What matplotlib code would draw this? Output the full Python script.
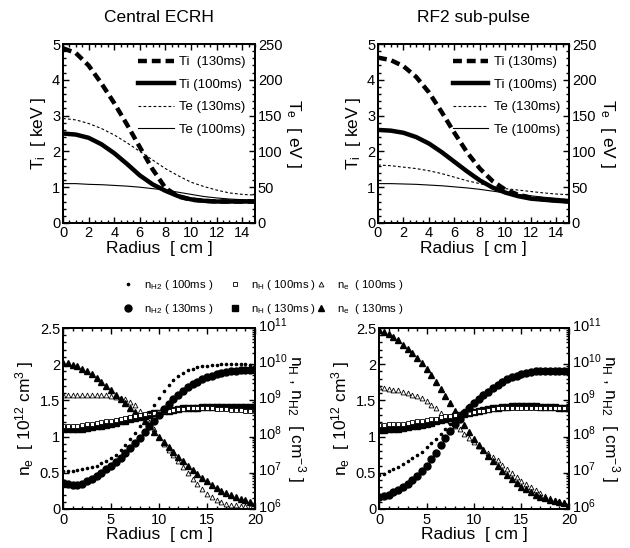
import numpy as np
import matplotlib
matplotlib.use("Agg")
import matplotlib.pyplot as plt
import matplotlib.transforms as mtransforms
from matplotlib.lines import Line2D
from matplotlib.ticker import MultipleLocator, LogLocator, NullFormatter, FormatStrFormatter

plt.rcParams["font.family"] = ["Liberation Sans", "DejaVu Sans"]
plt.rcParams["mathtext.fontset"] = "custom"
plt.rcParams["mathtext.rm"] = "Liberation Sans"
plt.rcParams["mathtext.it"] = "Liberation Sans:italic"
plt.rcParams["mathtext.default"] = "regular"

# ── temperature profiles (radius 0..15 cm) ───────────────────────────────────
r_T = [0, 1, 2, 3, 4, 5, 6, 7, 8, 9, 10, 11, 12, 13, 14, 15]

ti130_ecrh = [4.88, 4.75, 4.4, 3.9, 3.35, 2.75, 2.12, 1.5, 0.98, 0.74, 0.65, 0.62, 0.6, 0.6, 0.6, 0.6]
ti100_ecrh = [2.5, 2.47, 2.38, 2.2, 1.95, 1.65, 1.33, 1.08, 0.9, 0.75, 0.66, 0.62, 0.6, 0.6, 0.6, 0.6]
te130_ecrh = [146, 144, 139, 132, 123, 112, 100, 88, 76, 66, 57, 51, 46, 42, 40, 39]
te100_ecrh = [55, 55, 54, 53.5, 52.5, 51.5, 50, 48, 46, 43, 40, 37, 35, 33.5, 32.5, 32]

ti130_rf2 = [4.62, 4.55, 4.38, 4.08, 3.65, 3.1, 2.52, 1.97, 1.52, 1.17, 0.93, 0.79, 0.71, 0.66, 0.63, 0.6]
ti100_rf2 = [2.6, 2.58, 2.52, 2.4, 2.22, 1.98, 1.71, 1.44, 1.19, 0.99, 0.85, 0.75, 0.68, 0.65, 0.62, 0.6]
te130_rf2 = [81, 80, 78, 76, 73, 69, 64, 59, 55, 51, 48, 46, 44, 42, 40.5, 39.5]
te100_rf2 = [55, 55, 54.5, 54, 53, 52, 50.5, 49, 47, 44.5, 42, 40, 38, 36, 34.5, 33]

# ── density profiles (radius 0..20 cm, 0.5 cm step) ──────────────────────────
r_n = np.arange(41) * 0.5

# n_e in 10^12 cm^-3
ne130_ecrh = [2.02, 2.01, 1.99, 1.97, 1.94, 1.90, 1.86, 1.81, 1.76, 1.70,
              1.64, 1.58, 1.52, 1.46, 1.40, 1.34, 1.28, 1.21, 1.14, 1.07,
              1.00, 0.93, 0.86, 0.79, 0.72, 0.66, 0.60, 0.54, 0.48, 0.43,
              0.38, 0.33, 0.29, 0.25, 0.22, 0.19, 0.16, 0.14, 0.12, 0.10, 0.08]
ne100_ecrh = [1.58, 1.58, 1.58, 1.58, 1.58, 1.58, 1.58, 1.57, 1.57, 1.57,
              1.56, 1.55, 1.54, 1.52, 1.48, 1.43, 1.36, 1.28, 1.20, 1.10,
              1.00, 0.90, 0.82, 0.74, 0.66, 0.58, 0.50, 0.42, 0.34, 0.27,
              0.21, 0.16, 0.12, 0.09, 0.07, 0.06, 0.05, 0.04, 0.04, 0.03, 0.03]
ne130_rf2 = [2.47, 2.45, 2.42, 2.38, 2.33, 2.27, 2.21, 2.15, 2.08, 2.01,
             1.94, 1.85, 1.76, 1.66, 1.56, 1.46, 1.36, 1.26, 1.16, 1.06,
             0.97, 0.89, 0.81, 0.73, 0.66, 0.59, 0.53, 0.47, 0.41, 0.36,
             0.31, 0.27, 0.23, 0.20, 0.17, 0.15, 0.13, 0.11, 0.09, 0.08, 0.07]
ne100_rf2 = [1.68, 1.67, 1.66, 1.65, 1.64, 1.62, 1.60, 1.58, 1.56, 1.53,
             1.49, 1.44, 1.39, 1.33, 1.27, 1.21, 1.15, 1.10, 1.04, 0.98,
             0.92, 0.87, 0.82, 0.77, 0.72, 0.67, 0.61, 0.55, 0.50, 0.44,
             0.39, 0.34, 0.30, 0.26, 0.22, 0.18, 0.15, 0.13, 0.11, 0.09, 0.08]

# log10 of n_H and n_H2 in cm^-3
lg_nh2_100_ecrh = [7.06, 7.06, 7.06, 7.08, 7.10, 7.12, 7.16, 7.20, 7.26, 7.32,
                   7.40, 7.50, 7.62, 7.76, 7.92, 8.10, 8.28, 8.48, 8.68, 8.88,
                   9.08, 9.26, 9.42, 9.56, 9.68, 9.76, 9.84, 9.88, 9.92, 9.94,
                   9.96, 9.98, 9.98, 10.0, 10.0, 10.0, 10.0, 10.0, 10.0, 9.98, 9.98]
lg_nh2_130_ecrh = [6.72, 6.68, 6.66, 6.66, 6.70, 6.76, 6.82, 6.90, 7.00, 7.10,
                   7.20, 7.30, 7.42, 7.54, 7.68, 7.82, 7.96, 8.12, 8.28, 8.44,
                   8.60, 8.76, 8.90, 9.04, 9.16, 9.26, 9.36, 9.44, 9.52, 9.58,
                   9.64, 9.68, 9.72, 9.76, 9.78, 9.80, 9.82, 9.84, 9.84, 9.84, 9.84]
lg_nh_100_ecrh = [8.28, 8.28, 8.30, 8.30, 8.32, 8.34, 8.36, 8.38, 8.40, 8.42,
                  8.44, 8.46, 8.50, 8.52, 8.54, 8.58, 8.60, 8.62, 8.64, 8.66,
                  8.68, 8.70, 8.72, 8.74, 8.76, 8.76, 8.78, 8.78, 8.78, 8.78,
                  8.78, 8.78, 8.76, 8.76, 8.76, 8.74, 8.74, 8.74, 8.72, 8.72, 8.72]
lg_nh_130_ecrh = [8.20, 8.20, 8.20, 8.22, 8.22, 8.24, 8.26, 8.28, 8.30, 8.32,
                  8.36, 8.38, 8.42, 8.44, 8.48, 8.52, 8.54, 8.58, 8.60, 8.64,
                  8.66, 8.70, 8.72, 8.74, 8.76, 8.78, 8.78, 8.80, 8.80, 8.82,
                  8.82, 8.82, 8.82, 8.82, 8.82, 8.82, 8.82, 8.82, 8.82, 8.82, 8.82]

lg_nh2_100_rf2 = [6.94, 6.98, 7.04, 7.10, 7.16, 7.24, 7.32, 7.40, 7.48, 7.58,
                  7.70, 7.82, 7.94, 8.08, 8.22, 8.36, 8.48, 8.62, 8.74, 8.86,
                  8.98, 9.10, 9.20, 9.30, 9.40, 9.48, 9.56, 9.62, 9.68, 9.72,
                  9.76, 9.78, 9.80, 9.80, 9.82, 9.82, 9.82, 9.82, 9.82, 9.82, 9.82]
lg_nh2_130_rf2 = [6.34, 6.36, 6.40, 6.46, 6.52, 6.60, 6.70, 6.80, 6.92, 7.06,
                  7.20, 7.38, 7.56, 7.76, 7.96, 8.16, 8.34, 8.50, 8.66, 8.80,
                  8.92, 9.04, 9.14, 9.24, 9.34, 9.42, 9.50, 9.58, 9.64, 9.68,
                  9.72, 9.76, 9.78, 9.80, 9.82, 9.82, 9.82, 9.82, 9.82, 9.82, 9.80]
lg_nh_100_rf2 = [8.32, 8.32, 8.34, 8.34, 8.36, 8.36, 8.38, 8.40, 8.42, 8.44,
                 8.46, 8.48, 8.50, 8.54, 8.56, 8.58, 8.60, 8.62, 8.64, 8.66,
                 8.68, 8.70, 8.72, 8.74, 8.76, 8.78, 8.78, 8.80, 8.80, 8.80,
                 8.80, 8.80, 8.80, 8.80, 8.80, 8.80, 8.78, 8.78, 8.78, 8.78, 8.78]
lg_nh_130_rf2 = [8.18, 8.18, 8.20, 8.20, 8.22, 8.24, 8.26, 8.28, 8.30, 8.32,
                 8.36, 8.38, 8.42, 8.46, 8.50, 8.52, 8.56, 8.60, 8.62, 8.66,
                 8.68, 8.72, 8.74, 8.76, 8.78, 8.80, 8.82, 8.82, 8.84, 8.84,
                 8.84, 8.84, 8.84, 8.84, 8.82, 8.82, 8.82, 8.82, 8.80, 8.80, 8.80]

W, H = 630, 548
fig = plt.figure(figsize=(W / 100, H / 100), dpi=100)
gfmt = FormatStrFormatter("%g")


def rect(x0, y0, x1, y1):
    return [x0 / W, 1 - y1 / H, (x1 - x0) / W, (y1 - y0) / H]


def style(ax):
    for s in ax.spines.values():
        s.set_linewidth(1.4)
    ax.tick_params(which="both", direction="in", top=True, labelsize=10.5,
                   width=1, pad=2)
    ax.tick_params(which="major", length=4)
    ax.tick_params(which="minor", length=2)


# ── temperature panels ───────────────────────────────────────────────────────
def temp_panel(box, title, ti130, ti100, te130, te100, lab130):
    ax = fig.add_axes(box)
    ax2 = ax.twinx()
    h1, = ax.plot(r_T, ti130, color="k", lw=3.2, ls=(0, (2.0, 1.1)))
    h2, = ax.plot(r_T, ti100, color="k", lw=3.2)
    h3, = ax2.plot(r_T, te130, color="k", lw=0.8, ls=(0, (2.5, 2)))
    h4, = ax2.plot(r_T, te100, color="k", lw=0.8)
    ax.set_xlim(0, 15)
    ax.set_ylim(0, 5)
    ax2.set_ylim(0, 250)
    ax.xaxis.set_major_locator(MultipleLocator(2))
    ax.xaxis.set_minor_locator(MultipleLocator(0.5))
    ax.yaxis.set_major_locator(MultipleLocator(1))
    ax.yaxis.set_minor_locator(MultipleLocator(0.2))
    ax2.yaxis.set_major_locator(MultipleLocator(50))
    ax2.yaxis.set_minor_locator(MultipleLocator(10))
    ax.xaxis.set_major_formatter(gfmt)
    ax.yaxis.set_major_formatter(gfmt)
    ax2.yaxis.set_major_formatter(gfmt)
    style(ax)
    style(ax2)
    ax.set_xlabel("Radius  [ cm ]", fontsize=12.5, labelpad=1)
    ax.set_ylabel("T$_i$  [ keV ]", fontsize=12.5, labelpad=3)
    ax2.set_ylabel("T$_e$  [ eV ]", fontsize=12.5, rotation=270, labelpad=15)
    ax.set_title(title, fontsize=12.5, pad=16)
    ax2.legend([h1, h2, h3, h4],
               [lab130, "Ti (100ms)", "Te (130ms)", "Te (100ms)"],
               loc="upper right", frameon=False, fontsize=9.5,
               handlelength=2.7, handletextpad=0.4, labelspacing=0.78,
               borderaxespad=0.3, bbox_to_anchor=(1.0, 0.985))


temp_panel(rect(63, 44, 255, 223), "Central ECRH",
           ti130_ecrh, ti100_ecrh, te130_ecrh, te100_ecrh, "Ti  (130ms)")
temp_panel(rect(378, 44, 569, 223), "RF2 sub-pulse",
           ti130_rf2, ti100_rf2, te130_rf2, te100_rf2, "Ti (130ms)")

# shift for the log tick labels (they sit slightly above their ticks)
lift = mtransforms.ScaledTranslation(0, 3 / 72, fig.dpi_scale_trans)


# ── density panels ───────────────────────────────────────────────────────────
def dens_panel(box, ne130, ne100, nh2_100, nh2_130, nh_100, nh_130):
    ax = fig.add_axes(box)
    ax2 = ax.twinx()
    ax.plot(r_n, ne100, ls="none", marker="^", ms=3.5, mfc="white",
            mec="k", mew=0.6)
    ax.plot(r_n, ne130, ls="none", marker="^", ms=3.8, color="k")
    ax2.plot(r_n, 10 ** np.array(nh_130), ls="none", marker="s", ms=3.8,
             color="k")
    ax2.plot(r_n, 10 ** np.array(nh_100), ls="none", marker="s", ms=3.5,
             mfc="white", mec="k", mew=0.6)
    ax2.plot(r_n, 10 ** np.array(nh2_130), ls="none", marker="o", ms=5,
             color="k")
    ax2.plot(r_n, 10 ** np.array(nh2_100), ls="none", marker="o", ms=1.6,
             color="k")
    ax.set_xlim(0, 20)
    ax.set_ylim(0, 2.5)
    ax2.set_yscale("log")
    ax2.set_ylim(1e6, 1e11)
    ax.xaxis.set_major_locator(MultipleLocator(5))
    ax.xaxis.set_minor_locator(MultipleLocator(1))
    ax.yaxis.set_major_locator(MultipleLocator(0.5))
    ax.yaxis.set_minor_locator(MultipleLocator(0.1))
    ax.xaxis.set_major_formatter(gfmt)
    ax.yaxis.set_major_formatter(gfmt)
    ax2.yaxis.set_major_locator(LogLocator(base=10, numticks=10))
    ax2.yaxis.set_minor_locator(LogLocator(base=10, subs=np.arange(2, 10),
                                           numticks=10))
    ax2.yaxis.set_minor_formatter(NullFormatter())
    style(ax)
    style(ax2)
    ax.tick_params(axis="x", pad=3)
    for lab in ax2.get_yticklabels():
        lab.set_transform(lab.get_transform() + lift)
    ax.set_xlabel("Radius  [ cm ]", fontsize=12.5, labelpad=0)
    ax.set_ylabel("n$_e$  [ 10$^{12}$ cm$^{3}$ ]", fontsize=12.5, labelpad=3)
    ax2.set_ylabel("n$_H$ , n$_{H2}$  [ cm$^{-3}$ ]", fontsize=12.5,
                   rotation=270, labelpad=15)


dens_panel(rect(63, 328, 255, 509), ne130_ecrh, ne100_ecrh,
           lg_nh2_100_ecrh, lg_nh2_130_ecrh, lg_nh_100_ecrh, lg_nh_130_ecrh)
dens_panel(rect(379, 328, 569, 509), ne130_rf2, ne100_rf2,
           lg_nh2_100_rf2, lg_nh2_130_rf2, lg_nh_100_rf2, lg_nh_130_rf2)

# ── shared legend for the density panels ─────────────────────────────────────
groups = [
    (122, [Line2D([], [], ls="none", marker="o", ms=1.6, color="k"),
           Line2D([], [], ls="none", marker="o", ms=5, color="k")],
     ["n$_{H2}$ ( 100ms )", "n$_{H2}$ ( 130ms )"]),
    (229, [Line2D([], [], ls="none", marker="s", ms=3.5, mfc="white",
                  mec="k", mew=0.6),
           Line2D([], [], ls="none", marker="s", ms=3.8, color="k")],
     ["n$_H$ ( 100ms )", "n$_H$ ( 130ms )"]),
    (315, [Line2D([], [], ls="none", marker="^", ms=3.5, mfc="white",
                  mec="k", mew=0.6),
           Line2D([], [], ls="none", marker="^", ms=3.8, color="k")],
     ["n$_e$  ( 100ms )", "n$_e$  ( 130ms )"]),
]
for x0, hs, labs in groups:
    fig.legend(hs, labs, loc="upper left", bbox_to_anchor=(x0 / W, 1 - 278 / H),
               frameon=False, fontsize=8.2, handlelength=1.0,
               handletextpad=0.9, labelspacing=0.9, borderpad=0,
               borderaxespad=0)

fig.savefig("out.png", dpi=100)
